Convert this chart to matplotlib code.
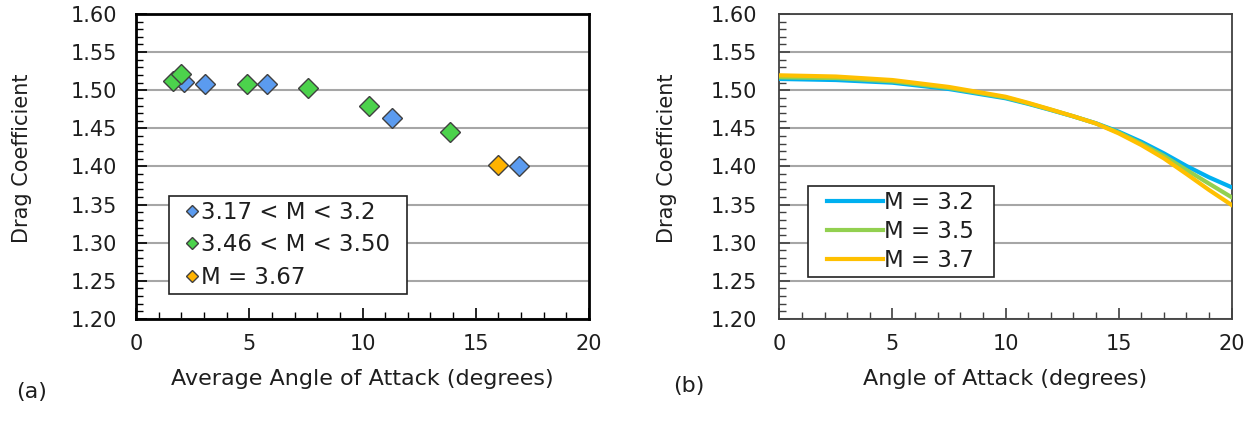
import matplotlib
matplotlib.use("Agg")
import matplotlib.pyplot as plt
from matplotlib.ticker import MultipleLocator, FormatStrFormatter
from matplotlib.lines import Line2D
from matplotlib.legend_handler import HandlerLine2D

plt.rcParams['font.family'] = ['DejaVu Sans']

# ---- data (a) ----
blue_x = [2.13, 3.03, 5.77, 11.32, 16.92]
blue_y = [1.511, 1.508, 1.508, 1.464, 1.401]
green_x = [1.65, 1.99, 4.91, 7.58, 10.29, 13.85]
green_y = [1.512, 1.521, 1.508, 1.503, 1.480, 1.445]
orange_x = [15.98]
orange_y = [1.402]
labels_a = ["3.17 < M < 3.2", "3.46 < M < 3.50", "M = 3.67"]

# ---- data (b) ----
alpha = [0, 2.5, 5, 7.5, 10, 11, 12, 13, 14, 15, 16, 17, 18, 19, 20]
cd_m32 = [1.5148, 1.5134, 1.5099, 1.5016, 1.4895, 1.4822, 1.4741, 1.4657, 1.4567, 1.4457, 1.4325, 1.4173, 1.4007, 1.3858, 1.3727]
cd_m35 = [1.5170, 1.5160, 1.5117, 1.5030, 1.4905, 1.4828, 1.4745, 1.4658, 1.4565, 1.4446, 1.4300, 1.4140, 1.3955, 1.3775, 1.3596]
cd_m37 = [1.5196, 1.5180, 1.5134, 1.5043, 1.4915, 1.4835, 1.4748, 1.4659, 1.4564, 1.4435, 1.4282, 1.4107, 1.3902, 1.3692, 1.3495]
labels_b = ["M = 3.2", "M = 3.5", "M = 3.7"]

W, H = 1256, 428
fig = plt.figure(figsize=(W / 100, H / 100), dpi=100)

txt = '#1e1e1e'
grid_c = '#A6A6A6'

def ax_box(l, r, t, b):
    return [l / W, 1 - b / H, (r - l) / W, (b - t) / H]

axA = fig.add_axes(ax_box(136, 589, 14, 319))
axB = fig.add_axes(ax_box(779.3, 1231.7, 14, 319))

for ax, spine_c, spine_w, ypad, lab_x in ((axA, 'black', 2.0, 13.5, -0.2296),
                                          (axB, '#404040', 1.3, 16, -0.226)):
    ax.set_xlim(0, 20)
    ax.set_ylim(1.20, 1.60)
    ax.xaxis.set_major_locator(MultipleLocator(5))
    ax.xaxis.set_minor_locator(MultipleLocator(1))
    ax.yaxis.set_major_locator(MultipleLocator(0.05))
    ax.yaxis.set_minor_locator(MultipleLocator(0.01))
    ax.yaxis.set_major_formatter(FormatStrFormatter('%.2f'))
    ax.tick_params(axis='both', which='both', direction='in', colors=spine_c, labelcolor=txt, labelsize=15)
    ax.tick_params(axis='y', which='major', length=8, width=1.2, pad=ypad)
    ax.tick_params(axis='y', which='minor', length=5, width=1.0)
    ax.tick_params(axis='x', which='major', length=8, width=1.2, pad=10.5)
    ax.tick_params(axis='x', which='minor', length=5, width=1.0)
    ax.grid(axis='y', which='major', color=grid_c, lw=1.5, zorder=0)
    ax.set_axisbelow(True)
    for s in ax.spines.values():
        s.set_color(spine_c)
        s.set_linewidth(spine_w)
    ax.set_ylabel("Drag Coefficient", fontsize=15, color=txt)
    ax.yaxis.set_label_coords(lab_x, 0.526)

mk = dict(marker='D', ms=10.5, mec='#404040', mew=1.0, ls='none')
axA.plot(blue_x, blue_y, mfc='#5B9BEF', label=labels_a[0], zorder=3, **mk)
axA.plot(green_x, green_y, mfc='#4CD24C', label=labels_a[1], zorder=3, **mk)
axA.plot(orange_x, orange_y, mfc='#FFB300', label=labels_a[2], zorder=3, **mk)
axA.set_xlabel("Average Angle of Attack (degrees)", fontsize=16, color=txt, labelpad=11)
legA = axA.legend(loc='upper left', mode='expand',
                  bbox_to_anchor=(0.0735, 0.404 - 0.3167, 0.524, 0.3167),
                  fontsize=16.5, frameon=True,
                  fancybox=False, edgecolor='#222222', framealpha=1, borderaxespad=0,
                  markerscale=0.55, handlelength=1.18, handletextpad=0.0, labelspacing=0.42,
                  borderpad=0.22, labelcolor=txt,
                  handler_map={Line2D: HandlerLine2D(xpad=0.38)})
legA.get_frame().set_linewidth(1.2)

axB.plot(alpha, cd_m32, color='#00B0F0', lw=3, label=labels_b[0], zorder=3)
axB.plot(alpha, cd_m35, color='#92D050', lw=3, label=labels_b[1], zorder=3)
axB.plot(alpha, cd_m37, color='#FFC000', lw=3, label=labels_b[2], zorder=3)
axB.set_xlabel("Angle of Attack (degrees)", fontsize=16, color=txt, labelpad=11)
legB = axB.legend(loc='upper left', mode='expand',
                  bbox_to_anchor=(0.0628, 0.436 - 0.2918, 0.4118, 0.2918),
                  fontsize=16.5, frameon=True,
                  fancybox=False, edgecolor='#222222', framealpha=1, borderaxespad=0,
                  handlelength=3.09, handletextpad=0.05, labelspacing=0.275,
                  borderpad=0.2, labelcolor=txt,
                  handler_map={Line2D: HandlerLine2D(xpad=0.64)})
legB.get_frame().set_linewidth(1.2)

fig.text(16 / W, 1 - 392 / H, "(a)", fontsize=16, color=txt, va='center', ha='left')
fig.text(673 / W, 1 - 386 / H, "(b)", fontsize=16, color=txt, va='center', ha='left')

fig.savefig("out.png", dpi=100)
